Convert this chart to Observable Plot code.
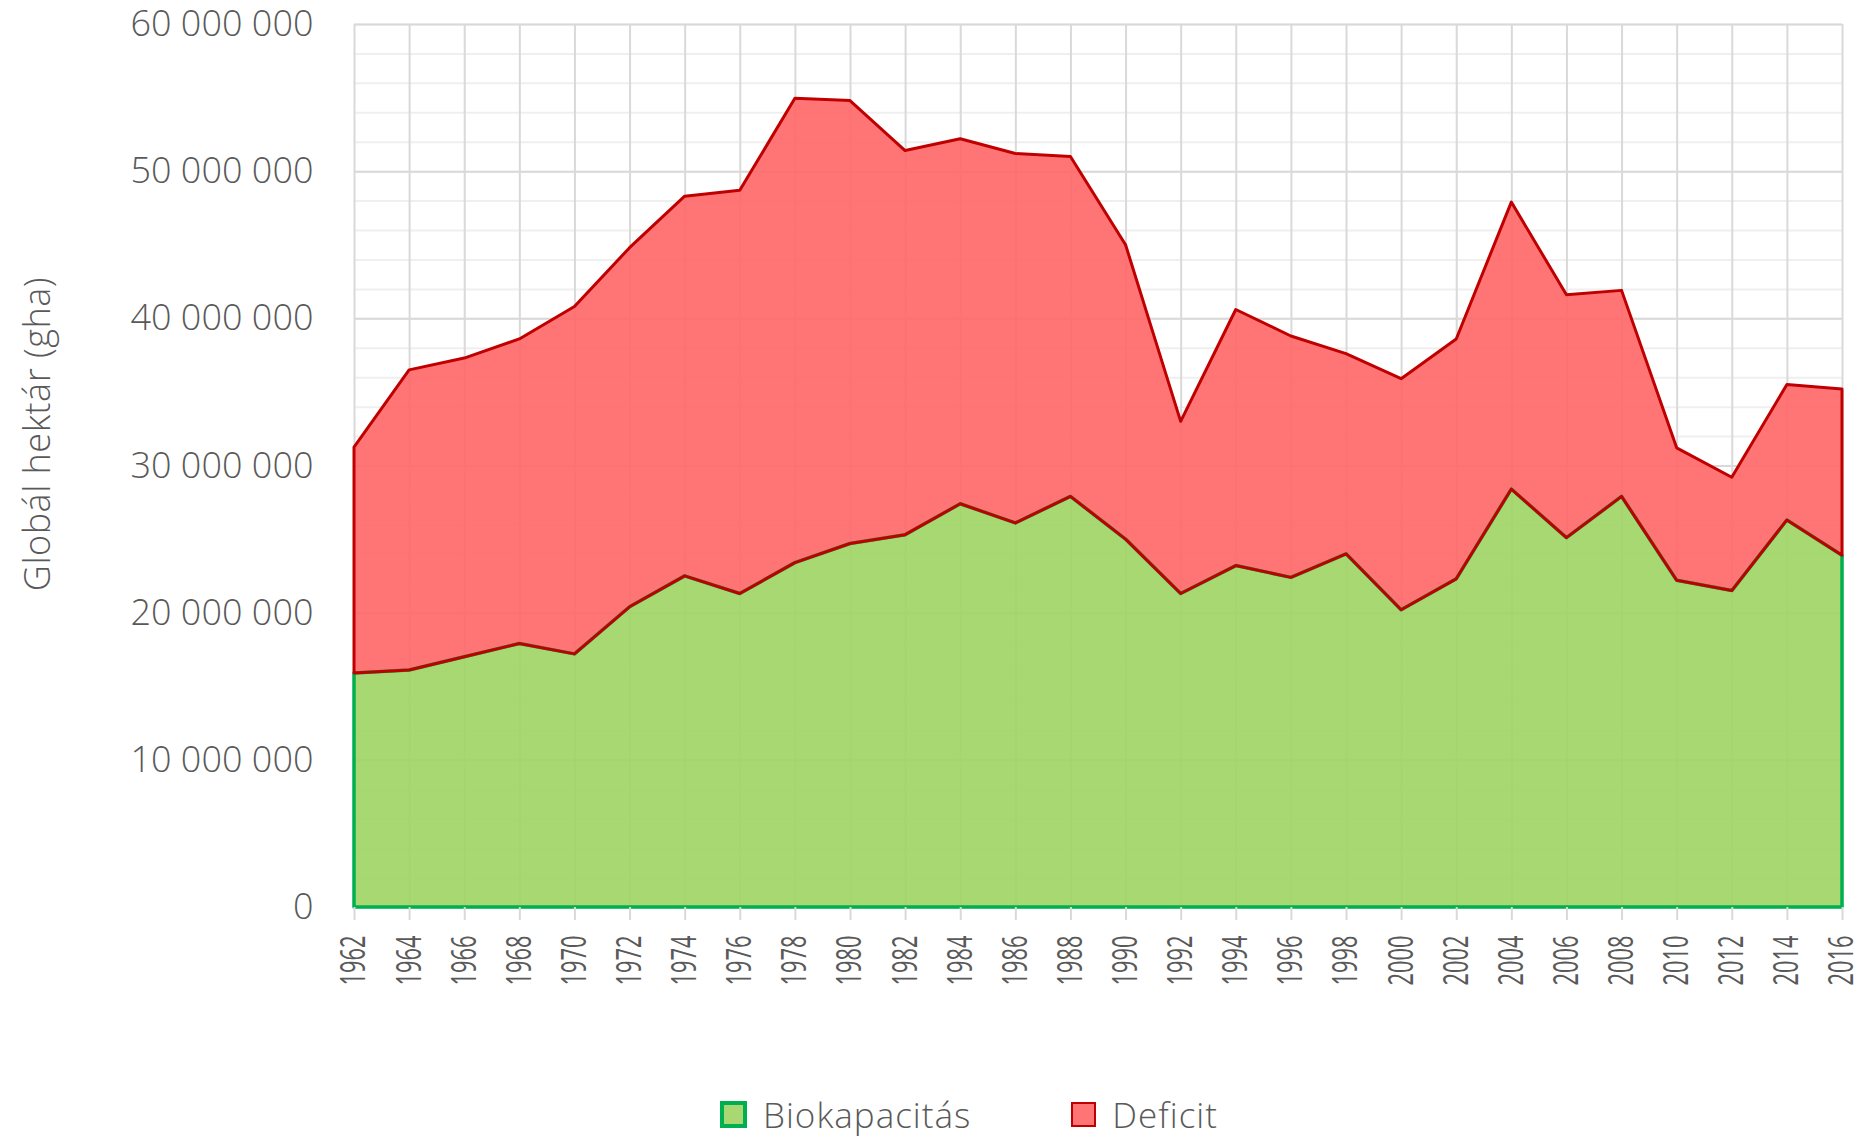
<!DOCTYPE html>
<html>
<head>
<meta charset="utf-8">
<script src="https://cdn.jsdelivr.net/npm/d3@7"></script>
<script src="https://cdn.jsdelivr.net/npm/@observablehq/plot@0.6"></script>
<style>
  body { margin: 0; background: #fff; font-family: "Open Sans", sans-serif; }
  #wrap { position: relative; width: 1874px; height: 1137px; overflow: hidden; background: #fff; }
  #wrap svg text { font-weight: 300; }
  #wrap svg g[aria-label="x-axis tick label"] text { font-weight: 400; }
  .legend { position: absolute; left: 720px; top: 1091px; height: 46px; display: flex; align-items: center;
            color: #595959; font-size: 35px; font-weight: 300; letter-spacing: 1px; font-family: "Open Sans", sans-serif; }
  .legend .item { display: flex; align-items: center; }
  .legend .sw { box-sizing: border-box; margin-right: 16px; }
</style>
</head>
<body>
<div id="wrap"></div>
<script>
// ---- data (global hectares) ----
const years = [1962, 1964, 1966, 1968, 1970, 1972, 1974, 1976, 1978, 1980, 1982, 1984, 1986, 1988,
               1990, 1992, 1994, 1996, 1998, 2000, 2002, 2004, 2006, 2008, 2010, 2012, 2014, 2016];
const biokapacitas = [15900000, 16100000, 17000000, 17900000, 17200000, 20400000, 22500000, 21300000,
                      23400000, 24700000, 25300000, 27400000, 26100000, 27900000, 25000000, 21300000,
                      23200000, 22400000, 24000000, 20200000, 22300000, 28400000, 25100000, 27900000,
                      22200000, 21500000, 26300000, 23900000];
const deficit = [15350000, 20400000, 20300000, 20700000, 23600000, 24400000, 25800000, 27400000,
                 31550000, 30100000, 26100000, 24800000, 25100000, 23100000, 20000000, 11700000,
                 17400000, 16400000, 13600000, 15700000, 16300000, 19500000, 16500000, 14000000,
                  9000000,  7700000,  9200000, 11300000];
const seriesNames = ["Biokapacitás", "Deficit"];
const yTickValues = [0, 10000000, 20000000, 30000000, 40000000, 50000000, 60000000];
const yMinorTicks = [0, 2000000, 4000000, 6000000, 8000000, 10000000, 12000000, 14000000, 16000000,
                     18000000, 20000000, 22000000, 24000000, 26000000, 28000000, 30000000, 32000000,
                     34000000, 36000000, 38000000, 40000000, 42000000, 44000000, 46000000, 48000000,
                     50000000, 52000000, 54000000, 56000000, 58000000, 60000000];
const yLabel = "Globál hektár (gha)";

// ---- build table ----
const rows = years.map((year, i) => ({
  year,
  bio: biokapacitas[i],
  total: biokapacitas[i] + deficit[i]
}));

const fmt = d => d3.format(",")(d).replace(/,/g, " ");

const GREEN_FILL = "#9fd463", GREEN_LINE = "#00b050";
const RED_FILL = "#ff6666", RED_LINE = "#c00000";

const chart = Plot.plot({
  width: 1874,
  height: 1090,
  marginLeft: 354,
  marginRight: 32,
  marginTop: 24,
  marginBottom: 183,
  style: { fontFamily: '"Open Sans", sans-serif', color: "#595959", background: "#fff", overflow: "visible" },
  x: { type: "linear", domain: [1962, 2016] },
  y: { domain: [0, 60000000] },
  marks: [
    Plot.gridY({ ticks: yMinorTicks, stroke: "#efefef", strokeOpacity: 1, strokeWidth: 2 }),
    Plot.gridY({ ticks: yTickValues, stroke: "#d9d9d9", strokeOpacity: 1, strokeWidth: 2 }),
    Plot.gridX({ ticks: years, stroke: "#d9d9d9", strokeOpacity: 1, strokeWidth: 2 }),
    Plot.areaY(rows, { x: "year", y1: 0, y2: "bio", fill: GREEN_FILL, fillOpacity: 0.9 }),
    Plot.areaY(rows, { x: "year", y1: "bio", y2: "total", fill: RED_FILL, fillOpacity: 0.9 }),
    Plot.areaY(rows, { x: "year", y1: 0, y2: "bio", fill: "none", stroke: GREEN_LINE, strokeWidth: 3.5 }),
    Plot.areaY(rows, { x: "year", y1: "bio", y2: "total", fill: "none", stroke: RED_LINE, strokeWidth: 3 }),
    Plot.axisY({ ticks: yTickValues, tickSize: 0, tickPadding: 41, tickFormat: fmt, fontSize: 36,
                 fill: "#595959", label: yLabel, labelAnchor: "center", labelArrow: "none", labelOffset: 330 }),
    Plot.axisX({ ticks: years, tickSize: 13, tickPadding: 15, tickRotate: -90, tickFormat: d => String(d),
                 stroke: "#d9d9d9", strokeWidth: 2, fill: "#595959", fontSize: 34, label: null })
  ]
});

// condense rotated year labels like the original
chart.querySelectorAll('g[aria-label="x-axis tick label"] text').forEach(t => {
  t.setAttribute("textLength", "50");
  t.setAttribute("lengthAdjust", "spacingAndGlyphs");
});
// y title sits a little above the plot's middle, slightly letter-spaced
const yl = chart.querySelector('g[aria-label="y-axis label"]');
if (yl) {
  yl.setAttribute("transform", (yl.getAttribute("transform") || "") + " translate(0,-32)");
  yl.querySelectorAll("text").forEach(t => { t.style.letterSpacing = "0.5px"; });
}

const wrap = document.getElementById("wrap");
wrap.appendChild(chart);

// legend
const legend = document.createElement("div");
legend.className = "legend";
const swatches = [
  { name: seriesNames[0], fill: "#a9d873", border: GREEN_LINE, size: 27, bw: 4, gapAfter: 100 },
  { name: seriesNames[1], fill: "#ff7575", border: RED_LINE, size: 25, bw: 2, gapAfter: 0 }
];
swatches.forEach(s => {
  const item = document.createElement("div");
  item.className = "item";
  item.style.marginRight = s.gapAfter + "px";
  const sw = document.createElement("div");
  sw.className = "sw";
  sw.style.width = s.size + "px";
  sw.style.height = s.size + "px";
  sw.style.background = s.fill;
  sw.style.border = s.bw + "px solid " + s.border;
  const label = document.createElement("span");
  label.textContent = s.name;
  item.appendChild(sw);
  item.appendChild(label);
  legend.appendChild(item);
});
wrap.appendChild(legend);
</script>
</body>
</html>
